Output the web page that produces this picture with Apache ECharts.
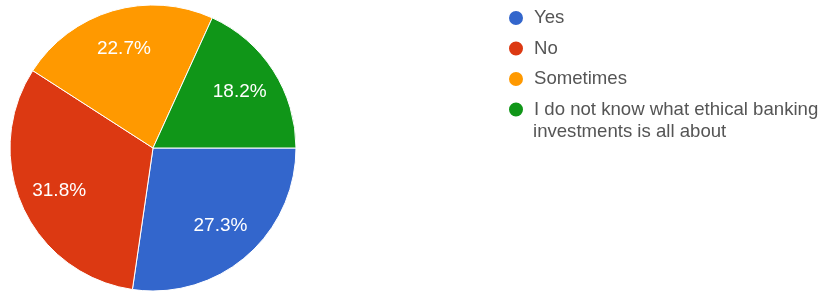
<!DOCTYPE html>
<html>
<head>
<meta charset="utf-8">
<script src="https://cdn.jsdelivr.net/npm/echarts@6/dist/echarts.min.js"></script>
<style>
  html, body { margin: 0; padding: 0; background: #fff; }
  #chart { width: 828px; height: 292px; }
</style>
</head>
<body>
<div id="chart"></div>
<script>
const categories = [
  'Yes',
  'No',
  'Sometimes',
  'I do not know what ethical banking investments is all about'
];
const percents = [27.3, 31.8, 22.7, 18.2];
const colors = ['#3366cc', '#dc3912', '#ff9900', '#109618'];

// the long legend entry wraps after this many characters
const wrapAt = 'I do not know what ethical banking'.length;

const center = [153, 148];
const radius = 143;
const fontFamily = 'Liberation Sans, Arial, sans-serif';

const chart = echarts.init(document.getElementById('chart'));

const longName = categories[categories.length - 1];

chart.setOption({
  animation: false,
  legend: {
    orient: 'vertical',
    left: 502,
    top: 2,
    icon: 'circle',
    itemWidth: 26,
    itemHeight: 16,
    itemGap: 8.5,
    data: categories,
    // first line in the legend, the rest goes underneath (graphic below)
    formatter: name => (name.length > wrapAt ? name.slice(0, wrapAt) : name),
    textStyle: {
      fontFamily,
      fontSize: 18.6,
      lineHeight: 22,
      color: '#555'
    }
  },
  graphic: [
    {
      type: 'text',
      left: 533,
      top: 122,
      silent: true,
      style: {
        text: longName.slice(wrapAt + 1),
        fontFamily,
        fontSize: 18.6,
        fill: '#555'
      }
    }
  ],
  series: [
    {
      type: 'pie',
      center,
      radius: [0, radius],
      startAngle: 0,
      clockwise: true,
      silent: true,
      label: { show: false },
      labelLine: { show: false },
      itemStyle: { borderColor: '#fff', borderWidth: 1 },
      data: categories.map((name, i) => ({
        name,
        value: percents[i],
        itemStyle: { color: colors[i] }
      }))
    },
    {
      // transparent ring only used to place the percent labels at ~0.7 r
      type: 'pie',
      center,
      radius: [radius * 0.4, radius],
      startAngle: 0,
      clockwise: true,
      silent: true,
      itemStyle: { color: 'rgba(0,0,0,0)' },
      label: {
        show: true,
        position: 'inside',
        formatter: p => p.value.toFixed(1) + '%',
        color: '#fff',
        fontFamily,
        fontSize: 19
      },
      labelLine: { show: false },
      data: categories.map((name, i) => ({ name, value: percents[i] }))
    }
  ]
});
</script>
</body>
</html>
